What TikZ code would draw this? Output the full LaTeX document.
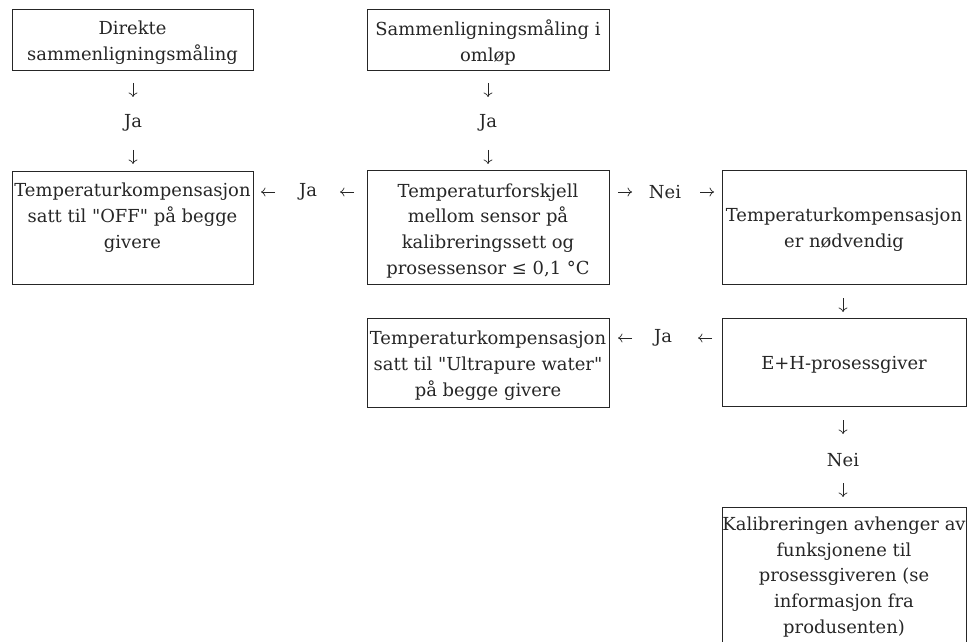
\documentclass[tikz,border=0pt]{standalone}
\usepackage{fontspec}
\setmainfont[Ligatures=TeXOff]{DejaVu Serif}
\usetikzlibrary{arrows.meta}
\begin{document}
\begin{tikzpicture}[x=1bp,y=-1bp,
  box/.style={draw=black!85, line width=0.8bp, inner sep=0, outer sep=0},
  txt/.style={align=center, inner sep=0, font=\fontsize{18}{26}\selectfont, text=black!85},
  arr/.style={line width=0.7bp, draw=black!85, -{To[length=4.5bp,width=9bp]}}]
\useasboundingbox (0,0) rectangle (967,642);
% boxes
\node[box, minimum width=241bp, minimum height=61bp]  (b1) at (132.5,39.5) {};
\node[box, minimum width=242bp, minimum height=61bp]  (b2) at (488,39.5) {};
\node[box, minimum width=241bp, minimum height=113bp] (b3) at (132.5,227.5) {};
\node[box, minimum width=242bp, minimum height=114bp] (b4) at (488,227) {};
\node[box, minimum width=244bp, minimum height=114bp] (b5) at (844,227) {};
\node[box, minimum width=242bp, minimum height=89bp]  (b6) at (488,362.5) {};
\node[box, minimum width=244bp, minimum height=88bp]  (b7) at (844,362) {};
\node[box, minimum width=244bp, minimum height=170bp] (b8) at (844,592) {};
% texts
\node[txt] (t1) at (132.5,42.5) {Direkte\\sammenligningsmåling};
\node[txt] (t2) at (488,42.5) {Sammenligningsmåling i\\omløp};
\node[txt] (t3) at (132.5,218) {Temperaturkompensasjon\\satt til "OFF" på begge\\givere};
\node[txt] (t4) at (488,231) {Temperaturforskjell\\mellom sensor på\\kalibreringssett og\\prosessensor ≤ 0,1 °C};
\node[txt] (t5) at (844,230) {Temperaturkompensasjon\\er nødvendig};
\node[txt] (t6) at (488,366) {Temperaturkompensasjon\\satt til "Ultrapure water"\\på begge givere};
\node[txt] (t7) at (844,365) {E+H-prosessgiver};
\node[txt] (t8) at (844,577) {Kalibreringen avhenger av\\funksjonene til\\prosessgiveren (se\\informasjon fra\\produsenten)};
% labels
\node[txt] (l1) at (133,123) {Ja};
\node[txt] (l2) at (488,123) {Ja};
\node[txt] (l3) at (308,192) {Ja};
\node[txt] (l4) at (665,192) {Nei};
\node[txt] (l5) at (663,338) {Ja};
\node[txt] (l6) at (843,460) {Nei};
% arrows
\coordinate (d1a) at (133,83); \coordinate (d1b) at (133,97);
\coordinate (d2a) at (133,150); \coordinate (d2b) at (133,164);
\coordinate (d3a) at (488,83); \coordinate (d3b) at (488,97);
\coordinate (d4a) at (488,150); \coordinate (d4b) at (488,164);
\coordinate (d5a) at (843,298); \coordinate (d5b) at (843,312);
\coordinate (d6a) at (843,420); \coordinate (d6b) at (843,434);
\coordinate (d7a) at (843,483); \coordinate (d7b) at (843,497);
\coordinate (h1a) at (275,192); \coordinate (h1b) at (261,192);
\coordinate (h2a) at (354,192); \coordinate (h2b) at (340,192);
\coordinate (h3a) at (618,192); \coordinate (h3b) at (632,192);
\coordinate (h4a) at (700,192); \coordinate (h4b) at (714,192);
\coordinate (h5a) at (632,338); \coordinate (h5b) at (618,338);
\coordinate (h6a) at (712,338); \coordinate (h6b) at (698,338);
\foreach \a in {d1,d2,d3,d4,d5,d6,d7,h1,h2,h3,h4,h5,h6}
  \draw[arr] (\a a) -- (\a b);
\end{tikzpicture}
\end{document}
